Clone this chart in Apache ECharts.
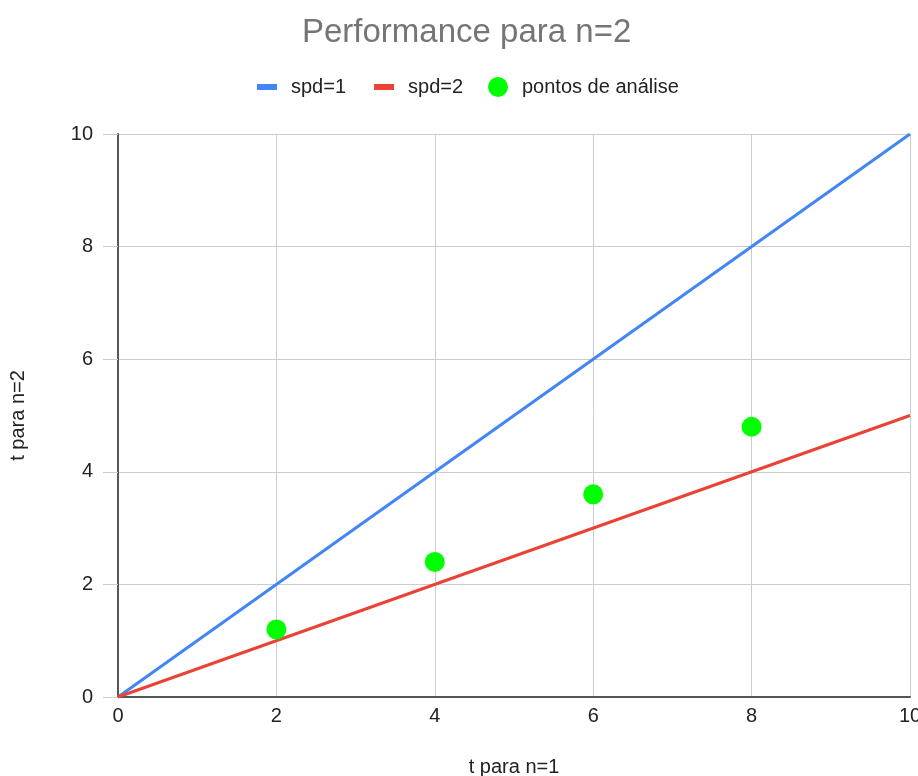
<!DOCTYPE html>
<html>
<head>
<meta charset="utf-8">
<script src="https://cdn.jsdelivr.net/npm/echarts@6/dist/echarts.min.js"></script>
<style>html,body{margin:0;padding:0;background:#fff;overflow:hidden}#c{width:918px;height:776px}</style>
</head>
<body>
<div id="c"></div>
<script>
var titleText = 'Performance para n=2';
var xName = 't para n=1';
var yName = 't para n=2';
var spd1 = [[0, 0], [10, 10]];
var spd2 = [[0, 0], [10, 5]];
var pontos = [[2, 1.2], [4, 2.4], [6, 3.6], [8, 4.8]];
var xTicks = [0, 2, 4, 6, 8, 10];
var yTicks = [0, 2, 4, 6, 8, 10];

var font = 'Arial, "Liberation Sans", sans-serif';
var chart = echarts.init(document.getElementById('c'), null, {renderer: 'canvas'});
chart.setOption({
  backgroundColor: '#fff',
  animation: false,
  title: {
    text: titleText, left: 297, top: 11,
    textStyle: {fontFamily: font, fontSize: 33, fontWeight: 'normal', color: '#757575'}
  },
  legend: [{
    data: ['spd=1', 'spd=2'],
    left: 252, top: 72, icon: 'rect', itemWidth: 20, itemHeight: 6, itemGap: 28,
    textStyle: {fontFamily: font, fontSize: 20, color: '#222', padding: [0, 0, 0, 9]}
  }, {
    data: ['pontos de análise'],
    left: 483, top: 72, icon: 'circle', itemWidth: 20, itemHeight: 20,
    textStyle: {fontFamily: font, fontSize: 20, color: '#222', padding: [0, 0, 0, 9]}
  }],
  grid: {left: 118, right: 8, top: 134, bottom: 79, containLabel: false, outerBoundsMode: 'none'},
  xAxis: {
    type: 'value', min: xTicks[0], max: xTicks[xTicks.length - 1], interval: 2,
    name: xName, nameLocation: 'middle', nameGap: 60,
    nameTextStyle: {fontFamily: font, fontSize: 20, color: '#222'},
    axisLine: {onZero: false, lineStyle: {color: '#555', width: 2}},
    axisTick: {show: false},
    axisLabel: {fontFamily: font, fontSize: 20, color: '#222', margin: 9},
    splitLine: {show: true, lineStyle: {color: '#cccccc', width: 1}}
  },
  yAxis: {
    type: 'value', min: yTicks[0], max: yTicks[yTicks.length - 1], interval: 2,
    name: yName, nameLocation: 'middle', nameGap: 90, nameRotate: 90,
    nameTextStyle: {fontFamily: font, fontSize: 20, color: '#222'},
    axisLine: {show: true, onZero: false, lineStyle: {color: '#555', width: 2}},
    axisTick: {show: true, length: 15, lineStyle: {color: '#cccccc', width: 1}},
    axisLabel: {fontFamily: font, fontSize: 20, color: '#222', margin: 25},
    splitLine: {show: true, lineStyle: {color: '#cccccc', width: 1}}
  },
  series: [{
    name: 'spd=1', type: 'line', data: spd1, showSymbol: false, symbol: 'none',
    lineStyle: {color: '#4285F4', width: 3}, itemStyle: {color: '#4285F4'}, z: 3
  }, {
    name: 'spd=2', type: 'line', data: spd2, showSymbol: false, symbol: 'none',
    lineStyle: {color: '#EA4335', width: 3}, itemStyle: {color: '#EA4335'}, z: 3
  }, {
    name: 'pontos de análise', type: 'scatter', data: pontos, symbolSize: 20,
    itemStyle: {color: '#00FF00', opacity: 1}, z: 4
  }]
});
</script>
</body>
</html>
